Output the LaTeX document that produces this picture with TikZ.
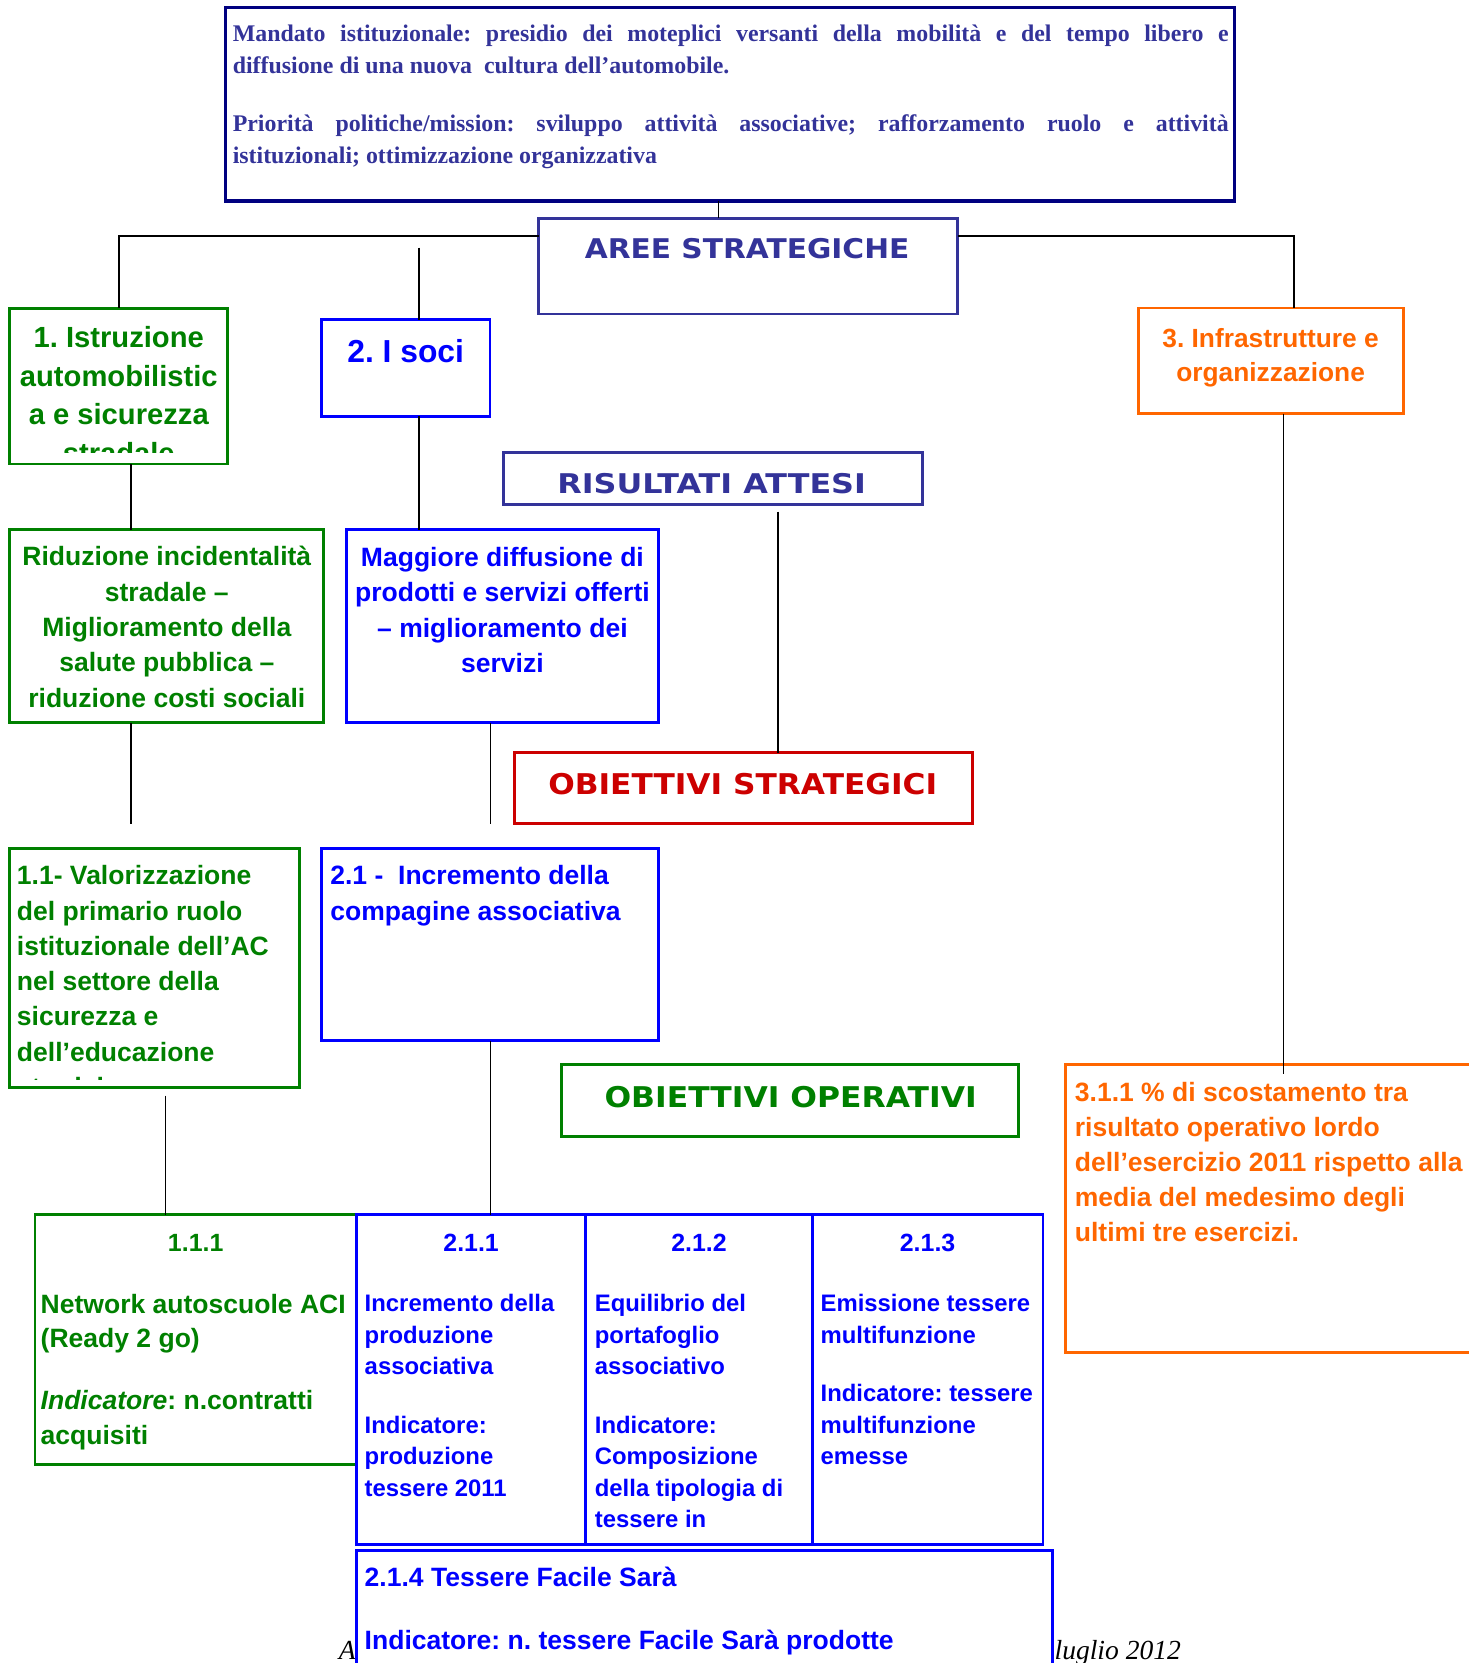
\documentclass[tikz,border=0pt]{standalone}
\usepackage{fontspec}
\usepackage{graphicx}
\setmainfont{Liberation Serif}
\newfontfamily\arl{Liberation Sans}
\newfontfamily\vrd{DejaVu Sans}
\definecolor{navy}{HTML}{000080}
\definecolor{slate}{HTML}{333399}
\definecolor{grn}{HTML}{008000}
\definecolor{blu}{HTML}{0000FF}
\definecolor{org}{HTML}{FF6600}
\definecolor{rd}{HTML}{CC0000}
\newcommand\fs[2]{\fontsize{#1pt}{#2pt}\selectfont}
\frenchspacing
\tikzset{
  bx/.style={draw, rectangle, anchor=north west, inner sep=0pt, outer sep=0pt, line width=2.8pt},
  txt/.style={inner sep=0pt, outer sep=0pt, font=\frenchspacing},
  conn/.style={draw=black, line width=1.5pt},
}
\begin{document}
\begin{tikzpicture}[x=1pt,y=-1pt]
\useasboundingbox (0,0) rectangle (1385,1568);

% ---------- footer (partly covered by box 2.1.4) ----------
\node[txt,anchor=base west] (fa) at (319.6,1565) {\itshape\fs{26}{30}A};
\node[txt,anchor=base east] (fl) at (1113.5,1565) {\itshape\fs{26}{30}luglio 2012};

% ---------- boxes ----------
\node[bx,draw=navy,line width=3.2pt,minimum width=951.5pt,minimum height=182.5pt] (T) at (212.5,7) {};
\node[bx,draw=slate,line width=2.6pt,minimum width=395pt,minimum height=90pt] (A) at (508,206) {};
\node[bx,draw=grn,minimum width=205.4pt,minimum height=146.8pt] (b1) at (9.3,290.7) {};
\node[bx,draw=blu,minimum width=159pt,minimum height=91pt] (b2) at (303,301.7) {};
\node[bx,draw=org,minimum width=250pt,minimum height=99.6pt] (b3) at (1073.2,290.4) {};
\node[bx,draw=slate,line width=2.6pt,minimum width=395.4pt,minimum height=49.5pt] (R) at (474.5,426.5) {};
\node[bx,draw=grn,minimum width=295.9pt,minimum height=181.6pt] (r1) at (9.3,499.7) {};
\node[bx,draw=blu,minimum width=294.2pt,minimum height=181.6pt] (r2) at (326.6,499.7) {};
\node[bx,draw=rd,minimum width=431.5pt,minimum height=66.6pt] (os) at (485.5,709.6) {};
\node[bx,draw=grn,minimum width=272.7pt,minimum height=225.3pt] (o11) at (9.3,799.8) {};
\node[bx,draw=blu,minimum width=317.8pt,minimum height=181.3pt] (o21) at (303,799.8) {};
\node[bx,draw=grn,minimum width=431pt,minimum height=68pt] (oo) at (529,1004) {};
\node[bx,draw=org,minimum width=395pt,minimum height=271pt] (p311) at (1005,1004) {};
\node[bx,draw=grn,minimum width=303pt,minimum height=235pt] (p111) at (33,1145.5) {};
\node[bx,draw=blu,minimum width=216.3pt,minimum height=310.5pt] (p211) at (336,1145.5) {};
\node[bx,draw=blu,minimum width=213.6pt,minimum height=310.5pt] (p212) at (552.3,1145.5) {};
\node[bx,draw=blu,minimum width=217.5pt,minimum height=310.5pt] (p213) at (765.9,1145.5) {};
\node[bx,draw=blu,fill=white,minimum width=656.1pt,minimum height=127.7pt] (p214) at (336,1462.3) {};

% ---------- texts ----------
\begin{scope}[every node/.style={txt,text=slate}]
\node[anchor=base west] (t1) at (219.5,39.3) {\bfseries\fs{22.5}{30}\makebox[939pt][s]{Mandato istituzionale: presidio dei moteplici versanti della mobilità e del tempo libero e}};
\node[anchor=base west] (t2) at (219.5,69.1) {\bfseries\fs{22.5}{30}diffusione di una nuova~ cultura dell’automobile.};
\node[anchor=base west] (t3) at (219.5,124.1) {\bfseries\fs{22.5}{30}\makebox[939pt][s]{Priorità politiche/mission: sviluppo attività associative; rafforzamento ruolo e attività}};
\node[anchor=base west] (t4) at (219.5,154) {\bfseries\fs{22.5}{30}istituzionali; ottimizzazione organizzativa};
\node[anchor=base] (tA) at (704.4,244) {\resizebox{306pt}{19pt}{\vrd\bfseries AREE STRATEGICHE}};
\node[anchor=base] (tR) at (671,465) {\resizebox{291pt}{19pt}{\vrd\bfseries RISULTATI ATTESI}};
\end{scope}
\node[txt,anchor=base,text=rd] (tos) at (700.3,749) {\resizebox{366.7pt}{20pt}{\vrd\bfseries OBIETTIVI STRATEGICI}};
\node[txt,anchor=base,text=grn] (too) at (745.5,1044) {\resizebox{351pt}{20pt}{\vrd\bfseries OBIETTIVI OPERATIVI}};

\begin{scope}
\clip (9.3,290.7) rectangle (214.7,427);
\node[txt,anchor=base,text=grn] (tb1) at (112,327.5) {\parbox[t]{200pt}{\centering\arl\bfseries\fs{27.5}{36.6}1. Istruzione\\ automobilistic\\ a e sicurezza\\ stradale}};
\end{scope}
\node[txt,anchor=base,text=blu] (tb2) at (382.5,342) {\arl\bfseries\fs{30}{36}2. I soci};
\node[txt,anchor=base,text=org] (tb3) at (1198,328) {\parbox[t]{240pt}{\centering\arl\bfseries\fs{24.8}{32}3. Infrastrutture e\\ organizzazione}};

\node[txt,anchor=base,text=grn] (tr1) at (157.3,533.6) {\parbox[t]{292pt}{\centering\arl\bfseries\fs{25}{33.3}Riduzione incidentalità\\ stradale –\\ Miglioramento della\\ salute pubblica –\\ riduzione costi sociali}};
\node[txt,anchor=base,text=blu] (tr2) at (473.7,534.3) {\parbox[t]{290pt}{\centering\arl\bfseries\fs{25}{33.3}Maggiore diffusione di\\ prodotti e servizi offerti\\ – miglioramento dei\\ servizi}};

\begin{scope}
\clip (9.3,799.8) rectangle (282,1017.5);
\node[txt,anchor=base west,text=grn] (to11) at (16,834.4) {\parbox[t]{262pt}{\raggedright\arl\bfseries\fs{25}{33.2}1.1- Valorizzazione\\ del primario ruolo\\ istituzionale dell’AC\\ nel settore della\\ sicurezza e\\ dell’educazione\\ stradale}};
\end{scope}
\node[txt,anchor=base west,text=blu] (to21) at (311.5,834.4) {\parbox[t]{305pt}{\raggedright\arl\bfseries\fs{25}{33.2}2.1 -~ Incremento della\\ compagine associativa}};

\node[txt,anchor=base west,text=org] (tp311) at (1013.5,1038.6) {\parbox[t]{370pt}{\raggedright\arl\bfseries\fs{25}{33}3.1.1 \% di scostamento tra\\ risultato operativo lordo\\ dell’esercizio 2011 rispetto alla\\ media del medesimo degli\\ ultimi tre esercizi.}};

% bottom row
\node[txt,anchor=base,text=grn] (h111) at (184.5,1180) {\arl\bfseries\fs{23.5}{28}1.1.1};
\node[txt,anchor=base west,text=grn] (a111) at (38.4,1238) {\parbox[t]{295pt}{\raggedright\arl\bfseries\fs{25}{32.5}Network autoscuole ACI\\ (Ready 2 go)}};
\node[txt,anchor=base west,text=grn] (b111) at (38.4,1329) {\parbox[t]{295pt}{\raggedright\arl\bfseries\fs{25}{33}\textit{Indicatore}: n.contratti\\ acquisiti}};

\node[txt,anchor=base,text=blu] (h211) at (444.2,1180) {\arl\bfseries\fs{23.5}{28}2.1.1};
\node[txt,anchor=base west,text=blu] (a211) at (343.9,1236.6) {\parbox[t]{205pt}{\raggedright\arl\bfseries\fs{22.5}{29.7}Incremento della\\ produzione\\ associativa}};
\node[txt,anchor=base west,text=blu] (b211) at (343.9,1351.3) {\parbox[t]{205pt}{\raggedright\arl\bfseries\fs{22.5}{29.7}Indicatore:\\ produzione\\ tessere 2011}};

\node[txt,anchor=base,text=blu] (h212) at (659.1,1180) {\arl\bfseries\fs{23.5}{28}2.1.2};
\node[txt,anchor=base west,text=blu] (a212) at (560.9,1236.6) {\parbox[t]{200pt}{\raggedright\arl\bfseries\fs{22.5}{29.7}Equilibrio del\\ portafoglio\\ associativo}};
\node[txt,anchor=base west,text=blu] (b212) at (560.9,1351.3) {\parbox[t]{200pt}{\raggedright\arl\bfseries\fs{22.5}{29.7}Indicatore:\\ Composizione\\ della tipologia di\\ tessere in}};

\node[txt,anchor=base,text=blu] (h213) at (874.6,1180) {\arl\bfseries\fs{23.5}{28}2.1.3};
\node[txt,anchor=base west,text=blu] (a213) at (773.8,1236.6) {\parbox[t]{205pt}{\raggedright\arl\bfseries\fs{22.5}{29.7}Emissione tessere\\ multifunzione}};
\node[txt,anchor=base west,text=blu] (b213) at (773.8,1321.5) {\parbox[t]{205pt}{\raggedright\arl\bfseries\fs{22.5}{29.7}Indicatore: tessere\\ multifunzione\\ emesse}};

\node[txt,anchor=base west,text=blu] (a214) at (343.9,1495.9) {\arl\bfseries\fs{25}{30}2.1.4 Tessere Facile Sarà};
\node[txt,anchor=base west,text=blu] (b214) at (343.9,1555) {\arl\bfseries\fs{25}{30}Indicatore: n. tessere Facile Sarà prodotte};

% ---------- connectors ----------
\coordinate (hl) at (0,222.5);
\coordinate (xT) at (677.5,0);
\coordinate (x123) at (123.3,0);
\coordinate (x395) at (394.8,0);
\coordinate (x462) at (462.5,0);
\coordinate (x1210) at (1210,0);
\coordinate (x1220) at (1220,0);
\coordinate (s2) at (394.8,233.5);
\coordinate (s3) at (733.6,482.4);
\coordinate (e1) at (123.3,777);
\coordinate (e2) at (462.5,777);
\coordinate (s4) at (156,1033);
\coordinate (e3) at (1210,1013);

\draw[conn] (xT |- T.south) -- (xT |- A.north);
\draw[conn] (A.west |- hl) -| (b1.north);
\draw[conn] (A.east |- hl) -| (x1220 |- b3.north);
\draw[conn] (s2) -- (s2 |- b2.north);
\draw[conn] (x123 |- b1.south) -- (x123 |- r1.north);
\draw[conn] (x395 |- b2.south) -- (x395 |- r2.north);
\draw[conn] (s3) -- (s3 |- os.north);
\draw[conn] (x123 |- r1.south) -- (e1);
\draw[conn] (x462 |- r2.south) -- (e2);
\draw[conn] (x462 |- o21.south) -- (x462 |- p211.north);
\draw[conn] (s4) -- (s4 |- p111.north);
\draw[conn] (x1210 |- b3.south) -- (e3);
\end{tikzpicture}
\end{document}
